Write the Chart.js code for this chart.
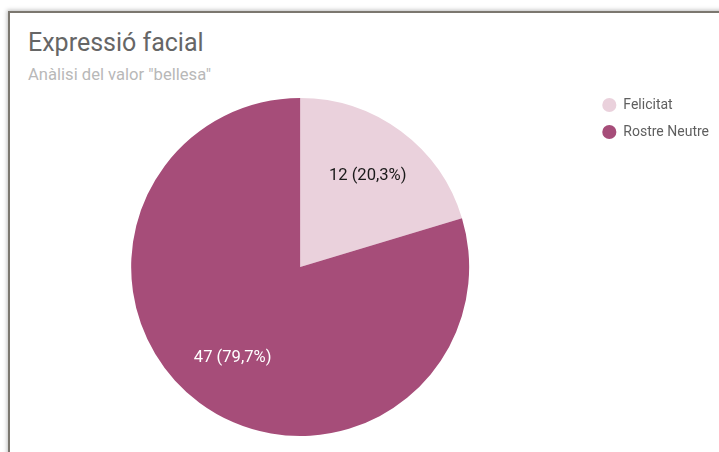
<style>
body {
  margin: 0;
  background: #fff;
  font-family: Roboto, sans-serif;
}
#card {
  position: absolute;
  left: 8px;
  top: 11px;
  width: 740px;
  height: 480px;
  border: 2px solid #7b776f;
  box-shadow: -1px -1px 4px rgba(0, 0, 0, 0.25);
}
#chart_title {
  position: absolute;
  left: 28px;
  top: 30px;
  font-size: 25px;
  line-height: 1;
  color: #666666;
}
#chart_subtitle {
  position: absolute;
  left: 28px;
  top: 67px;
  font-size: 16.6px;
  line-height: 1;
  color: #b8b8b8;
}
#pie_container {
  position: absolute;
  left: 0;
  top: 0;
  width: 719px;
  height: 452px;
}
</style>

<div id="card"></div>
<div id="chart_title">Expressió facial</div>
<div id="chart_subtitle">Anàlisi del valor "bellesa"</div>
<div id="pie_container">
  <canvas id="myChart" width="719" height="452"></canvas>
</div>

<script src="https://cdn.jsdelivr.net/npm/chart.js"></script>

<script>
const labels = ['Felicitat', 'Rostre Neutre'];
const counts = [12, 47];
const colors = ['#ead1dc', '#a64d79'];
const labelColors = ['#1a1a1a', '#ffffff'];

// write "12 (20,3%)" inside each slice
const sliceLabels = {
  id: 'sliceLabels',
  afterDatasetsDraw(chart) {
    const ctx = chart.ctx;
    const data = chart.data.datasets[0].data;
    const total = data.reduce((a, b) => a + b, 0);
    ctx.save();
    ctx.font = '16.6px Roboto';
    ctx.textAlign = 'center';
    ctx.textBaseline = 'middle';
    chart.getDatasetMeta(0).data.forEach((arc, i) => {
      const p = arc.getProps(['x', 'y', 'startAngle', 'endAngle', 'outerRadius'], true);
      const mid = (p.startAngle + p.endAngle) / 2;
      const d = p.outerRadius * 0.67;
      const pct = (data[i] / total * 100).toFixed(1).replace('.', ',');
      ctx.fillStyle = labelColors[i];
      ctx.fillText(`${data[i]} (${pct}%)`, p.x + Math.cos(mid) * d, p.y + Math.sin(mid) * d);
    });
    ctx.restore();
  }
};

const ctx = document.getElementById('myChart');

let chart = new Chart(ctx, {
  type: 'pie',
  data: {
    labels: labels,
    datasets: [{
      data: counts,
      backgroundColor: colors,
      borderWidth: 0,
      radius: 169
    }]
  },
  options: {
    responsive: false,
    animation: false,
    layout: {
      padding: { left: 11, right: 0, top: 85, bottom: 3 }
    },
    plugins: {
      legend: {
        position: 'right',
        align: 'start',
        labels: {
          usePointStyle: true,
          pointStyle: 'circle',
          boxWidth: 14,
          boxHeight: 10,
          padding: 13,
          color: '#5f5f5f',
          font: { family: 'Roboto', size: 14 }
        }
      },
      tooltip: { enabled: false }
    }
  },
  plugins: [sliceLabels]
});
</script>
